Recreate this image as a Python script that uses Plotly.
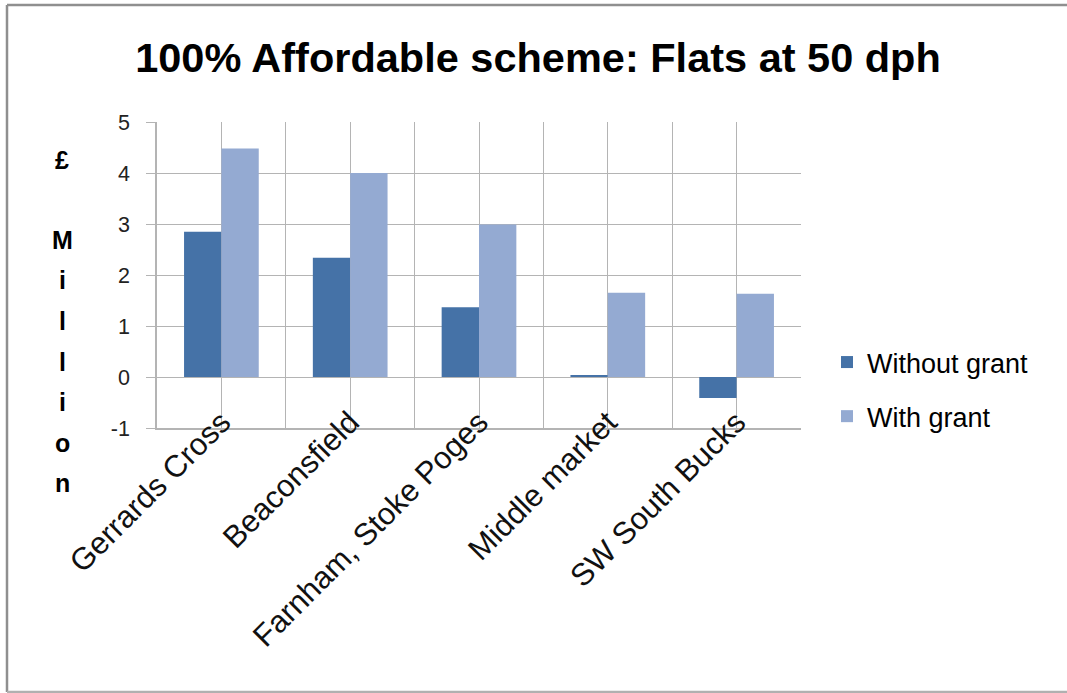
import plotly.graph_objects as go

categories = ["Gerrards Cross", "Beaconsfield", "Farnham, Stoke Poges", "Middle market", "SW South Bucks"]
without_grant = [2.85, 2.34, 1.37, 0.04, -0.41]
with_grant = [4.48, 4.0, 2.99, 1.65, 1.63]
y_ticks = [-1, 0, 1, 2, 3, 4, 5]
y_tick_labels = ["-1", "0", "1", "2", "3", "4", "5"]
title_text = "100% Affordable scheme: Flats at 50 dph"
ytitle_letters = ["£", "M", "i", "l", "l", "i", "o", "n"]

W, H = 1067, 693
L, R, T, B = 157, 801, 122, 428  # plot area in pixels

def px_x(p):
    return (p - L) / (R - L)

def px_y(p):
    return (B - p) / (B - T)

FONT = "Liberation Sans, Arial"
GRID = "#b4b4b4"
fig = go.Figure()
fig.add_trace(go.Bar(x=categories, y=without_grant, name="Without grant",
                     marker=dict(color="#4572a7", line=dict(width=0)),
                     legendgroup="a"))
fig.add_trace(go.Bar(x=categories, y=with_grant, name="With grant",
                     marker=dict(color="#94aad2", line=dict(width=0)),
                     legendgroup="b"))
# helper trace so the second category axis draws gridlines at category centres
fig.add_trace(go.Scatter(x=categories, y=[0] * len(categories), xaxis="x2",
                         mode="markers", marker=dict(opacity=0),
                         showlegend=False, hoverinfo="skip"))

annotations = []
letter_y = [160, 240, 280, 321, 362, 402, 443, 483]
for ch, yy in zip(ytitle_letters, letter_y):
    annotations.append(dict(text="<b>" + ch + "</b>", x=px_x(62), y=px_y(yy),
                            xref="paper", yref="paper",
                            showarrow=False, xanchor="center", yanchor="middle",
                            font=dict(family=FONT, size=25, color="#000")))

BORDER = dict(color="#8f8f8f", width=2.5)
border_shapes = [
    dict(type="line", xref="paper", yref="paper", x0=px_x(7), x1=px_x(7),
         y0=px_y(692), y1=px_y(5), line=BORDER, layer="below"),
    dict(type="line", xref="paper", yref="paper", x0=px_x(7), x1=px_x(1070),
         y0=px_y(5), y1=px_y(5), line=BORDER, layer="below"),
    dict(type="line", xref="paper", yref="paper", x0=px_x(7), x1=px_x(1070),
         y0=px_y(692), y1=px_y(692), line=dict(color="#b0b0b0", width=2.5), layer="below"),
]

fig.update_layout(
    width=W, height=H,
    margin=dict(l=L, r=W - R, t=T, b=H - B, pad=0),
    paper_bgcolor="white", plot_bgcolor="white",
    barmode="group", bargap=0.42, bargroupgap=0,
    title=dict(text="<b>" + title_text + "</b>", x=538 / W, xanchor="center",
               y=1 - 57 / H, yanchor="middle",
               font=dict(family=FONT, size=41.5, color="#000")),
    font=dict(family=FONT, color="#000"),
    xaxis=dict(type="category", categoryorder="array", categoryarray=categories,
               tickson="boundaries", showgrid=True, gridcolor=GRID, gridwidth=1.3,
               showline=True, linecolor=GRID, linewidth=1.5, ticks="",
               tickangle=-45, ticklabelstandoff=-38,
               tickfont=dict(size=31, family=FONT, color="#111"),
               range=[-0.5, len(categories) - 0.5], zeroline=False),
    xaxis2=dict(type="category", overlaying="x", matches="x", side="bottom",
                showgrid=True, gridcolor=GRID, gridwidth=1.3, showticklabels=False,
                ticks="", showline=False, zeroline=False),
    yaxis=dict(range=[-1, 5], tickvals=y_ticks, ticktext=y_tick_labels,
               showgrid=True, gridcolor=GRID, gridwidth=1.3,
               zeroline=False, showline=True, linecolor=GRID, linewidth=1.5,
               ticks="outside", ticklen=9, tickcolor=GRID, tickwidth=1.3,
               ticklabelstandoff=12,
               tickfont=dict(size=21.5, family=FONT, color="#222")),
    legend=dict(x=px_x(827), y=px_y(338), xanchor="left", yanchor="top",
                font=dict(size=27, family=FONT, color="#000"),
                traceorder="grouped", tracegroupgap=16, bgcolor="rgba(0,0,0,0)",
                itemsizing="constant"),
    showlegend=True,
    annotations=annotations,
    shapes=border_shapes,
)

fig.write_html("out.html", config={"displayModeBar": False},
               post_script="document.body.style.margin='0';document.body.style.overflow='hidden';")
